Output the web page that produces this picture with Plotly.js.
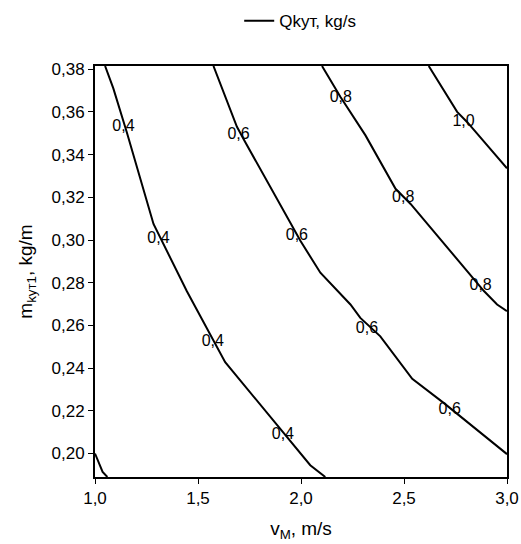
<!DOCTYPE html>
<html>
<head>
<meta charset="utf-8">
<script src="https://cdn.plot.ly/plotly-3.0.1.min.js"></script>
<style>html,body{margin:0;padding:0;background:#fff;}#chart{width:521px;height:544px;}</style>
</head>
<body>
<div id="chart"></div>
<script>
// Contour levels of Qkyт (kg/s)
const levels = ["0,2", "0,4", "0,6", "0,8", "1,0"];
const lineX = [
  [1.0, 1.037, 1.06],
  [1.049, 1.089, 1.154, 1.284, 1.446, 1.592, 1.632, 2.045, 2.118],
  [1.575, 1.640, 1.689, 1.729, 1.997, 2.094, 2.240, 2.288, 2.385, 2.540, 2.694, 3.0],
  [2.102, 2.191, 2.313, 2.459, 2.532, 2.888, 2.952, 3.0],
  [2.620, 2.758, 2.806, 3.0]
];
const lineY = [
  [0.2, 0.1914, 0.189],
  [0.3815, 0.371, 0.3506, 0.3075, 0.276, 0.2494, 0.2428, 0.1945, 0.189],
  [0.3815, 0.3647, 0.353, 0.3459, 0.2996, 0.2847, 0.2698, 0.2635, 0.2549, 0.235, 0.2236, 0.1997],
  [0.3815, 0.3671, 0.349, 0.324, 0.3169, 0.2761, 0.2698, 0.2667],
  [0.3815, 0.360, 0.3553, 0.3336]
];
// Inline contour labels
const labelText = ["0,4", "0,4", "0,4", "0,4", "0,6", "0,6", "0,6", "0,6", "0,8", "0,8", "0,8", "1,0"];
const labelX = [1.138, 1.308, 1.572, 1.912, 1.697, 1.980, 2.320, 2.722, 2.193, 2.496, 2.872, 2.789];
const labelY = [0.353, 0.3007, 0.2522, 0.2089, 0.349, 0.302, 0.2583, 0.2204, 0.3663, 0.3195, 0.2784, 0.3553];

const xTicks = [1.0, 1.5, 2.0, 2.5, 3.0];
const yTicks = [0.20, 0.22, 0.24, 0.26, 0.28, 0.30, 0.32, 0.34, 0.36, 0.38];

let allX = [], allY = [];
lineX.forEach((xs, i) => {
  allX = allX.concat(xs, [null]);
  allY = allY.concat(lineY[i], [null]);
});

const FONT = 'Liberation Sans, Arial, sans-serif';

const traces = [
  {
    x: allX, y: allY, type: 'scatter', mode: 'lines',
    name: 'Qkyт, kg/s', connectgaps: false,
    line: {color: '#000000', width: 2}, hoverinfo: 'skip'
  },
  {
    x: labelX, y: labelY, text: labelText, type: 'scatter', mode: 'text',
    textposition: 'middle center', showlegend: false,
    textfont: {family: FONT, size: 16, color: '#000000'},
    hoverinfo: 'skip'
  }
];

const layout = {
  width: 521, height: 544,
  margin: {l: 95, r: 14, t: 66, b: 67, autoexpand: false},
  paper_bgcolor: '#ffffff', plot_bgcolor: '#ffffff',
  separators: ', ',
  font: {family: FONT, size: 17, color: '#000000'},
  showlegend: true,
  legend: {
    orientation: 'h', x: 0.35, xanchor: 'left', y: 1.109, yanchor: 'middle',
    font: {size: 17}, bgcolor: 'rgba(0,0,0,0)'
  },
  xaxis: {
    range: [1.0, 3.0], tickvals: xTicks, tickformat: '.1f',
    showgrid: false, zeroline: false, showline: true, linecolor: '#000', linewidth: 2,
    mirror: true, ticks: 'outside', ticklen: 5, tickcolor: '#000',
    tickfont: {size: 17},
    title: {text: 'v<sub>M</sub>, m/s', font: {size: 19}, standoff: 14}
  },
  yaxis: {
    range: [0.189, 0.3815], tickvals: yTicks, tickformat: '.2f',
    showgrid: false, zeroline: false, showline: true, linecolor: '#000', linewidth: 2,
    mirror: true, ticks: 'outside', ticklen: 5, tickcolor: '#000',
    tickfont: {size: 17},
    title: {text: 'm<sub>kyт1</sub>, kg/m', font: {size: 19}, standoff: 14}
  }
};

Plotly.newPlot('chart', traces, layout, {displayModeBar: false, staticPlot: true});
</script>
</body>
</html>
